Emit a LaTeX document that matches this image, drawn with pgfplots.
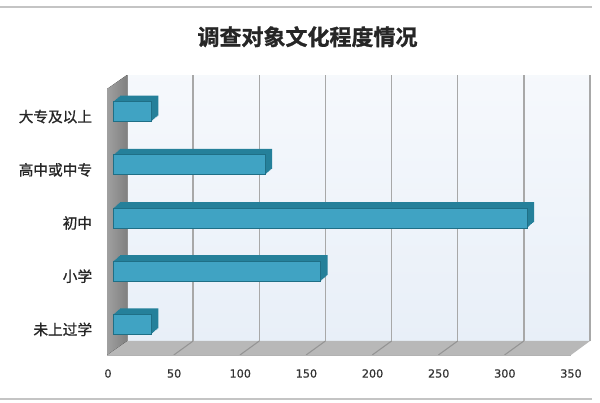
\documentclass[border=0pt]{standalone}
\usepackage{pgfplots}
\pgfplotsset{compat=1.18}
\usepackage{fontspec}
\setmainfont{DejaVu Sans}
\newfontfamily\cjk[FakeBold=1.0]{Noto Sans CJK SC}
\newfontfamily\cjktitle[FakeBold=1.2]{Noto Sans CJK SC Bold}
\newfontfamily\numfont[FakeBold=0.6]{DejaVu Sans}
\definecolor{barfront}{HTML}{40A3C3}
\definecolor{barlight}{HTML}{55B1CE}
\definecolor{bardark}{HTML}{25809A}
\definecolor{baredge}{HTML}{1F6F86}
\definecolor{wallbg}{HTML}{E8EFF8}
\definecolor{wallside}{HTML}{A0A0A0}
\definecolor{floorc}{HTML}{B8B8B8}
\definecolor{gridc}{HTML}{A8A8A8}
\definecolor{rulec}{HTML}{C4C4C4}
\pgfplotstableread{
y   v
0   29
1   157
2   313
3   115
4   29
}\datatab
\begin{document}
\begin{tikzpicture}
\path[use as bounding box] (0,0) rectangle (450pt,302.25pt);
\fill[white] (0,0) rectangle (450pt,302.25pt);
% top and bottom rules
\fill[rulec] (0,296.25pt) rectangle (444pt,297.75pt);
\fill[rulec] (0,2.25pt) rectangle (444pt,3.75pt);
% title
\node[font=\cjktitle\fontsize{16.5pt}{16.5pt}\selectfont, text=black!85] at (230.6pt,274.7pt) {调查对象文化程度情况};
\begin{axis}[
  at={(95.25pt,46.5pt)}, anchor=south west,
  width=347.25pt, height=199.5pt, scale only axis,
  xmin=0, xmax=350, ymin=-0.5, ymax=4.5,
  clip=false,
  axis line style={draw=none},
  axis background/.style={top color=white!60!wallbg, bottom color=wallbg, draw=none},
  xmajorgrids, grid style={gridc, line width=1.1pt},
  major tick length=0pt,
  xtick={0,50,...,350},
  /pgf/number format/assume math mode=true,
  xticklabel style={font=\numfont\fontsize{8.4pt}{8.4pt}\selectfont, text=black!80, inner sep=0pt, xshift=-14.25pt, yshift=-21pt},
  ytick={0,1,2,3,4},
  yticklabels={未上过学,小学,初中,高中或中专,大专及以上},
  yticklabel style={font=\cjk\fontsize{11pt}{11pt}\selectfont, text=black!85, inner sep=0pt, xshift=-26pt, yshift=-11.25pt},
]
% floor
\fill[floorc] (axis cs:0,-0.5) -- (axis cs:350,-0.5) -- ([shift={(-14.25pt,-10.5pt)}]axis cs:350,-0.5) -- ([shift={(-15pt,-10.5pt)}]axis cs:0,-0.5) -- cycle;
\pgfplotsinvokeforeach{50,100,150,200,250,300}{
  \draw[black!42, line width=0.8pt] (axis cs:#1,-0.5) -- ++(-14.5pt,-10.5pt);
}
\draw[black!30, line width=0.5pt] ([shift={(-15pt,-10.5pt)}]axis cs:0,-0.5) -- ([shift={(-14.25pt,-10.5pt)}]axis cs:350,-0.5);
% left wall
\fill[left color=wallside, right color=wallside!80!black] (axis cs:0,-0.5) -- (axis cs:0,4.5) -- ([shift={(-15pt,-10.5pt)}]axis cs:0,4.5) -- ([shift={(-15pt,-10.5pt)}]axis cs:0,-0.5) -- cycle;
% bars: extrusion (top and side faces), swept from back to front
\pgfplotsinvokeforeach{1.0,0.85,0.7,0.55,0.4,0.25,0.12}{
  \addplot[xbar, bar width=15pt, fill=bardark, draw=none, xshift=-10.5pt+#1*5.25pt, yshift=-7.5pt+#1*4.5pt]
    table[x=v, y=y] {\datatab};
}
% bars: front face
\addplot[xbar, bar width=15pt, top color=barfront, middle color=barlight, bottom color=barfront, draw=baredge, line width=0.6pt, xshift=-10.5pt, yshift=-7.5pt]
  table[x=v, y=y] {\datatab};
\end{axis}
\end{tikzpicture}
\end{document}
